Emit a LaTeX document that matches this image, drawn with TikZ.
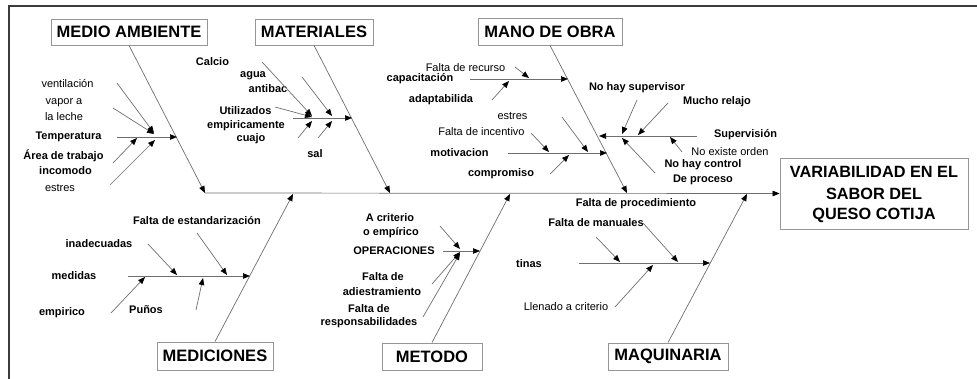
\documentclass[tikz,border=0pt]{standalone}
\usepackage{fontspec}
\setmainfont{Liberation Sans}
\usetikzlibrary{arrows.meta}
\definecolor{lncol}{RGB}{110,110,110}
\definecolor{bxcol}{RGB}{150,150,150}
\definecolor{frcol}{RGB}{60,60,60}
\begin{document}
\begin{tikzpicture}[x=1pt,y=-1pt,
  ln/.style={draw=lncol,line width=0.7pt},
  arr/.style={ln,-{Triangle[length=7pt,width=5.5pt,color=black]}},
  hdr/.style={draw=bxcol,line width=0.8pt,font=\fontsize{16.5}{19}\selectfont\bfseries,inner sep=0pt,minimum height=26pt},
  lb/.style={font=\fontsize{11}{13}\selectfont\bfseries,inner sep=0pt},
  lr/.style={font=\fontsize{11}{13}\selectfont,inner sep=0pt},
  eft/.style={font=\fontsize{16.3}{19}\selectfont\bfseries,inner sep=0pt}]
\useasboundingbox (0,0) rectangle (977,379);
% frame
\coordinate (f1) at (9,379); \coordinate (f2) at (9,6); \coordinate (f3) at (977,6);
\draw[frcol,line width=1.6pt] (f1) -- (f2) -- (f3);
% effect box
\node[draw=bxcol,line width=0.8pt,minimum width=188pt,minimum height=71pt,inner sep=0pt] (eff) at (874,193.5) {};
\node[eft] (e1) at (874,172) {VARIABILIDAD EN EL};
\node[eft] (e2) at (874,194) {SABOR DEL};
\node[eft] (e3) at (874,215) {QUESO COTIJA};
% header boxes
\node[hdr,minimum width=156pt] (ma) at (129,32) {MEDIO AMBIENTE};
\node[hdr,minimum width=118pt] (mat) at (314,32) {MATERIALES};
\node[hdr,minimum width=144pt,minimum height=27pt] (mo) at (550,31.5) {MANO DE OBRA};
\node[hdr,minimum width=116pt,minimum height=28pt] (med) at (215,356) {MEDICIONES};
\node[hdr,minimum width=100pt,minimum height=27pt] (met) at (432,356.5) {METODO};
\node[hdr,minimum width=120pt,minimum height=27pt] (maq) at (668,356.5) {MAQUINARIA};
% spine
\coordinate (s0) at (205,193);
\coordinate (s1) at (390,193);
\coordinate (s2) at (627,193);
\coordinate (s3) at (293,194);
\coordinate (s4) at (510,194);
\coordinate (s5) at (747,194);
\draw[arr] (s0) -- (eff.west);
\draw[arr] (ma.south) -- (s0);
\draw[arr] (mat.south) -- (s1);
\draw[arr] (mo.south) -- (s2);
\draw[arr] (med.north) -- (s3);
\draw[arr] (met.north) -- (s4);
\draw[arr] (maq.north) -- (s5);

% ===== MEDIO AMBIENTE =====
\node[lr] (a1) at (67.5,84) {ventilación};
\node[lr] (a2) at (64,103) {vapor a};
\node[lr] (a3) at (64,117) {la leche};
\node[lb] (a4) at (68.5,137) {Temperatura};
\node[lb] (a5) at (63.5,156) {Área de trabajo};
\node[lb] (a6) at (65.5,171) {incomodo};
\node[lr] (a7) at (60,188) {estres};
\coordinate (ah0) at (117,137); \coordinate (ah1) at (177,137);
\draw[arr] (ah0) -- (ah1);
\coordinate (av0) at (117,83); \coordinate (av1) at (154,133);
\draw[arr] (av0) -- (av1);
\coordinate (ap0) at (113,108); \coordinate (ap1) at (154,134);
\draw[arr] (ap0) -- (ap1);
\coordinate (at0) at (113,163); \coordinate (at1) at (137,138);
\draw[arr] (at0) -- (at1);
\coordinate (ae0) at (110,185); \coordinate (ae1) at (155,140);
\draw[arr] (ae0) -- (ae1);

% ===== MATERIALES =====
\node[lb] (b1) at (212.5,62) {Calcio};
\node[lb] (b2) at (253,76) {agua};
\node[lb] (b3) at (268,89) {antibac};
\node[lb] (b4) at (245.5,111) {Utilizados};
\node[lb] (b5) at (246,126) {empiricamente};
\node[lb] (b6) at (251,139) {cuajo};
\node[lb] (b7) at (315,154) {sal};
\coordinate (bh0) at (293,118); \coordinate (bh1) at (352,118);
\draw[arr] (bh0) -- (bh1);
\coordinate (bc0) at (262,62); \coordinate (bc1) at (312,116);
\draw[arr] (bc0) -- (bc1);
\coordinate (bu0) at (275,107); \coordinate (bu1) at (312,117);
\draw[arr] (bu0) -- (bu1);
\coordinate (bj0) at (298,138); \coordinate (bj1) at (312,121);
\draw[arr] (bj0) -- (bj1);
\coordinate (bg0) at (302,77); \coordinate (bg1) at (332,116);
\draw[arr] (bg0) -- (bg1);
\coordinate (bs0) at (318,138); \coordinate (bs1) at (332,121);
\draw[arr] (bs0) -- (bs1);

% ===== MANO DE OBRA =====
\node[lr] (c1) at (465.5,68) {Falta de recurso};
\node[lb] (c2) at (420,79) {capacitación};
\node[lb] (c3) at (441,100) {adaptabilida};
\node[lr] (c4) at (512.5,116) {estres};
\node[lr] (c5) at (481.5,132) {Falta de incentivo};
\node[lb] (c6) at (459.5,153) {motivacion};
\node[lb] (c7) at (501,174) {compromiso};
\node[lb] (c8) at (637,88) {No hay supervisor};
\node[lb] (c9) at (717,102) {Mucho relajo};
\node[lb] (c10) at (745.5,135) {Supervisión};
\node[lr] (c11) at (730,152) {No existe orden};
\node[lb] (c12) at (703,165) {No hay control};
\node[lb] (c13) at (703,180) {De proceso};
\coordinate (ch0) at (470,79); \coordinate (ch1) at (568,79);
\draw[arr] (ch0) -- (ch1);
\coordinate (cr0) at (515,67); \coordinate (cr1) at (529,78);
\draw[arr] (cr0) -- (cr1);
\coordinate (ca0) at (492,100); \coordinate (ca1) at (509,81);
\draw[arr] (ca0) -- (ca1);
\coordinate (cl0) at (508,153); \coordinate (cl1) at (607,153);
\draw[arr] (cl0) -- (cl1);
\coordinate (ci0) at (531,133); \coordinate (ci1) at (549,152);
\draw[arr] (ci0) -- (ci1);
\coordinate (ce0) at (562,117); \coordinate (ce1) at (588,152);
\draw[arr] (ce0) -- (ce1);
\coordinate (cm0) at (550,174); \coordinate (cm1) at (569,155);
\draw[arr] (cm0) -- (cm1);
\coordinate (cx0) at (697,136); \coordinate (cx1) at (599,136);
\draw[arr] (cx0) -- (cx1);
\coordinate (cs0) at (637,100); \coordinate (cs1) at (622,134);
\draw[arr] (cs0) -- (cs1);
\coordinate (cj0) at (668,103); \coordinate (cj1) at (638,135);
\draw[arr] (cj0) -- (cj1);
\coordinate (co0) at (682,152); \coordinate (co1) at (670,137);
\draw[arr] (co0) -- (co1);
\coordinate (cn0) at (655,173); \coordinate (cn1) at (622,138);
\draw[arr] (cn0) -- (cn1);

% ===== MEDICIONES =====
\node[lb] (d1) at (197,221) {Falta de estandarización};
\node[lb] (d2) at (99,244) {inadecuadas};
\node[lb] (d3) at (74,276) {medidas};
\node[lb] (d4) at (62,313) {empirico};
\node[lb] (d5) at (146,310) {Puños};
\coordinate (dh0) at (128,276); \coordinate (dh1) at (250,276);
\draw[arr] (dh0) -- (dh1);
\coordinate (di0) at (148,244); \coordinate (di1) at (177,275);
\draw[arr] (di0) -- (di1);
\coordinate (ds0) at (197,233); \coordinate (ds1) at (227,275);
\draw[arr] (ds0) -- (ds1);
\coordinate (de0) at (111,313); \coordinate (de1) at (145,277);
\draw[arr] (de0) -- (de1);
\coordinate (dp0) at (196,310); \coordinate (dp1) at (203,278);
\draw[arr] (dp0) -- (dp1);

% ===== METODO =====
\node[lb] (m1) at (390,218) {A criterio};
\node[lb] (m2) at (391,233) {o empírico};
\node[lb] (m3) at (394,251) {OPERACIONES};
\node[lb] (m4) at (383,277) {Falta de};
\node[lb] (m5) at (382,292) {adiestramiento};
\node[lb] (m6) at (369,309) {Falta de};
\node[lb] (m7) at (369,323) {responsabilidades};
\coordinate (mh0) at (443,251); \coordinate (mh1) at (480,251);
\draw[arr] (mh0) -- (mh1);
\coordinate (mc0) at (440,226); \coordinate (mc1) at (460,249);
\draw[arr] (mc0) -- (mc1);
\coordinate (ma0) at (432,284); \coordinate (ma1) at (460,252);
\draw[arr] (ma0) -- (ma1);
\coordinate (mr0) at (423,317); \coordinate (mr1) at (460,253);
\draw[arr] (mr0) -- (mr1);

% ===== MAQUINARIA =====
\node[lb] (q1) at (636,204) {Falta de procedimiento};
\node[lb] (q2) at (596,223) {Falta de manuales};
\node[lb] (q3) at (529,264) {tinas};
\node[lr] (q4) at (566,307) {Llenado a criterio};
\coordinate (qh0) at (579,263); \coordinate (qh1) at (710,263);
\draw[arr] (qh0) -- (qh1);
\coordinate (qm0) at (596,237); \coordinate (qm1) at (620,262);
\draw[arr] (qm0) -- (qm1);
\coordinate (qp0) at (643,223); \coordinate (qp1) at (678,262);
\draw[arr] (qp0) -- (qp1);
\coordinate (ql0) at (615,307); \coordinate (ql1) at (653,265);
\draw[arr] (ql0) -- (ql1);
\end{tikzpicture}
\end{document}
